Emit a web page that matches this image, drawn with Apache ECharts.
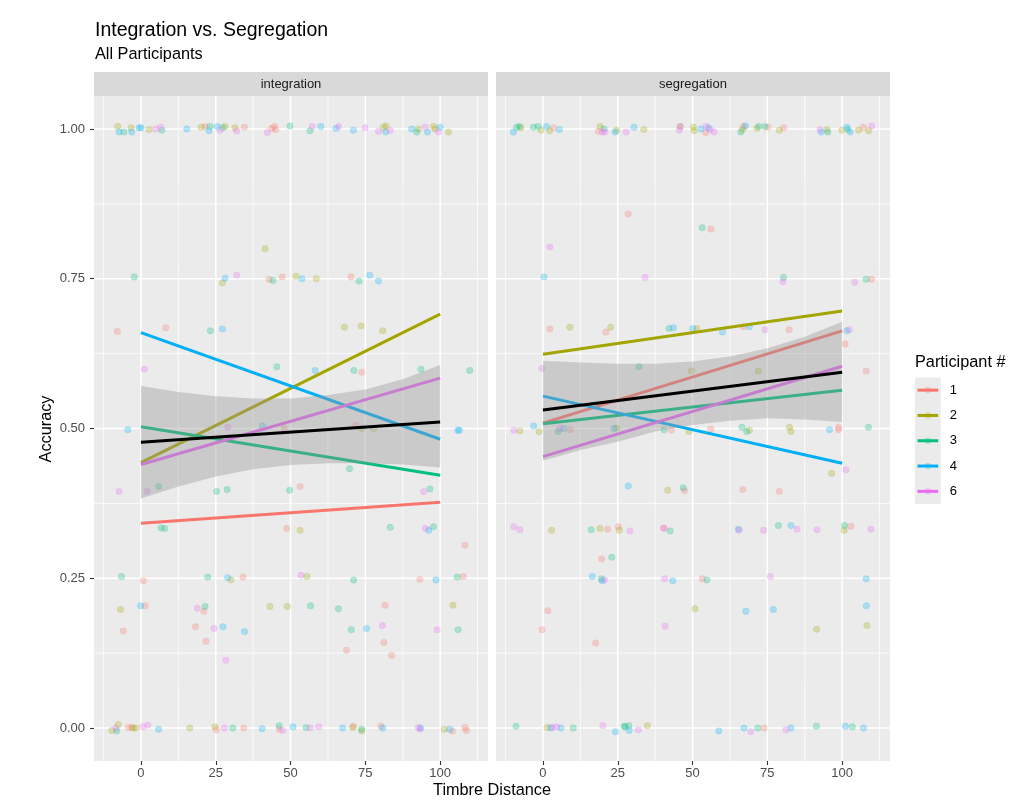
<!DOCTYPE html>
<html>
<head>
<meta charset="utf-8">
<script src="https://cdn.jsdelivr.net/npm/echarts@6/dist/echarts.min.js"></script>
<style>
  html, body { margin: 0; padding: 0; background: #ffffff; }
  #chart { width: 1020px; height: 800px; }
</style>
</head>
<body>
<div id="chart"></div>
<script>
// ---- data ----
const facets = ['integration', 'segregation'];
const participants = [1, 2, 3, 4, 6];
const participantColors = ['#F8766D', '#A3A500', '#00BF7D', '#00B0F6', '#E76BF3'];
const xTicks = [0, 25, 50, 75, 100];
const yTicks = [0, 0.25, 0.5, 0.75, 1];
const xMinorBreaks = [-12.5, 12.5, 37.5, 62.5, 87.5, 112.5];
const yMinorBreaks = [0.125, 0.375, 0.625, 0.875];

// jittered observations: [timbre distance, accuracy, participant]
const integrationPoints = [
  [-7.8,1.004,2],[-7.3,0.995,4],[-5.7,0.995,3],[-3.3,1.002,2],[-3.1,0.995,4],[-0.6,1.002,4],[0.0,1.002,4],[2.7,0.999,2],
  [4.9,1.0,6],[6.6,1.003,6],[7.0,0.998,3],[15.3,1.0,4],[20.1,1.003,2],[21.4,1.004,1],[22.7,0.997,4],[23.1,1.004,3],
  [25.5,1.004,4],[26.4,0.998,6],[27.3,1.002,3],[28.1,1.004,2],[31.4,1.002,2],[32.0,0.997,6],[34.6,1.003,1],[42.2,0.994,6],
  [43.7,1.001,1],[44.6,1.004,1],[45.0,0.999,1],[49.8,1.005,3],[56.5,0.997,3],[57.3,1.004,6],[60.1,1.004,4],[65.2,1.001,4],
  [66.1,1.004,6],[71.0,0.998,4],[74.9,1.002,6],[79.4,0.996,6],[81.0,1.003,2],[81.8,0.995,4],[81.9,1.005,2],[83.3,0.998,6],
  [90.5,1.0,4],[92.2,0.995,3],[92.7,1.0,2],[95.0,1.003,6],[95.8,0.995,4],[97.8,1.004,2],[98.3,1.0,2],[99.4,0.995,6],
  [100,1.003,4],[102.8,0.995,2],
  [41.5,0.80,2],
  [-2.2,0.753,3],[27.2,0.743,2],[28.1,0.751,4],[32.0,0.756,6],[42.8,0.749,1],[44.1,0.747,3],[47.2,0.753,1],[51.8,0.754,2],
  [53.8,0.750,4],[58.6,0.750,2],[70.2,0.753,1],[72.9,0.746,3],[76.5,0.756,4],[79.4,0.746,4],
  [-7.9,0.662,1],[8.3,0.668,1],[23.2,0.663,3],[27.2,0.666,4],[68.0,0.669,2],[73.6,0.671,2],[80.8,0.663,2],
  [1.1,0.599,6],[45.4,0.603,3],[58.2,0.597,4],[71.2,0.597,3],[73.8,0.594,1],[93.6,0.599,3],[109.9,0.597,3],
  [-4.4,0.498,4],[29.0,0.502,6],[40.6,0.504,4],[47.9,0.5,1],[71.8,0.505,1],[73.8,0.5,2],[77.8,0.5,2],[105.9,0.497,4],[106.4,0.497,4],
  [69.7,0.433,3],
  [-7.3,0.395,6],[2.0,0.395,6],[5.9,0.403,3],[25.3,0.395,3],[28.8,0.398,3],[49.7,0.397,3],[53.2,0.403,1],[94.5,0.395,6],[96.6,0.399,3],
  [6.7,0.334,3],[7.9,0.333,3],[48.7,0.333,1],[53.2,0.330,2],[83.3,0.335,3],[95.1,0.333,6],[96.2,0.330,4],[97.8,0.336,3],
  [108.3,0.305,1],
  [-6.5,0.253,3],[0.8,0.246,1],[22.3,0.252,3],[29.0,0.251,4],[30.1,0.247,2],[34.1,0.252,1],[53.5,0.255,6],[55.5,0.253,2],
  [71.1,0.247,3],[93.2,0.248,1],[98.6,0.247,4],[105.7,0.252,3],[107.7,0.253,1],
  [-6.8,0.198,2],[-0.1,0.204,4],[1.4,0.204,1],[18.8,0.200,6],[21.0,0.195,1],[21.4,0.203,3],[43.1,0.203,2],[48.9,0.203,2],
  [56.7,0.204,3],[66.0,0.199,3],[81.6,0.205,1],[104.3,0.205,2],
  [-5.9,0.162,1],[18.2,0.169,1],[24.4,0.166,6],[27.4,0.169,4],[34.6,0.161,4],[70.3,0.164,3],[75.4,0.166,4],[80.7,0.171,6],
  [99.0,0.164,6],[106.0,0.164,3],
  [21.7,0.145,1],[81.2,0.143,1],[68.7,0.130,1],[83.8,0.121,1],[28.4,0.113,6],
  [-9.8,-0.004,2],[-8.1,-0.005,3],[-8.4,0.0,6],[-7.6,0.006,2],[-4.2,0.001,1],[-3.1,0.001,1],[-2.6,0.0,2],[-1.8,0.0,2],
  [0.6,0.002,6],[2.3,0.005,6],[5.9,-0.002,4],[16.3,0.0,2],[24.7,0.002,2],[25.2,-0.003,1],[27.9,0.0,6],[30.7,0.0,3],
  [34.3,0.0,1],[40.5,-0.001,4],[46.2,0.004,3],[46.2,-0.002,1],[47.4,-0.004,6],[50.8,0.002,4],[55.2,0.001,3],[56.6,0.0,6],
  [59.4,0.002,6],[67.4,0.0,4],[70.7,0.001,2],[71.1,0.003,1],[73.7,-0.002,3],[73.8,-0.005,2],[80.2,0.003,1],[80.8,0.0,4],
  [92.7,0.001,6],[93.3,-0.002,6],[93.5,0.0,4],[101.4,-0.002,2],[103.2,-0.002,4],[104.1,-0.005,1],[108.3,0.001,1],[108.8,-0.004,1]
];

const segregationPoints = [
  [-9.9,0.995,4],[-8.8,1.003,3],[-7.9,1.004,3],[-7.4,1.002,2],[-3.2,1.003,3],[-1.6,1.004,3],[-0.7,0.998,2],[1.2,1.004,4],
  [2.2,0.997,2],[3.5,1.002,1],[5.5,0.999,4],[18.5,0.996,1],[19.1,1.004,2],[19.8,0.995,6],[20.4,1.0,3],[20.7,0.995,6],
  [24.1,0.995,4],[24.6,0.998,2],[27.8,0.995,6],[30.4,1.003,4],[33.7,0.999,2],[45.6,0.998,6],[45.8,1.004,2],[46.0,1.004,6],
  [50.3,1.003,2],[50.5,0.997,2],[52.8,1.0,4],[54.4,0.994,1],[54.5,1.004,6],[55.3,1.002,4],[55.9,0.999,6],[57.2,0.995,6],
  [66.1,0.995,3],[66.7,0.999,2],[67.0,1.004,1],[67.7,1.005,4],[71.5,1.001,2],[72.1,1.004,3],[74.2,1.004,3],[75.2,1.003,1],
  [79.0,0.998,2],[80.5,1.002,1],[92.6,0.999,6],[93.0,0.995,4],[94.9,0.999,2],[95.2,0.995,3],[99.9,0.998,2],[101.6,1.003,4],
  [101.9,0.999,3],[102.7,0.995,4],[105.5,0.998,2],[107.1,1.003,1],[108.9,0.997,2],[109.9,1.005,6],
  [28.5,0.858,1],[53.2,0.835,3],[56.1,0.833,1],[2.3,0.803,6],
  [0.3,0.753,4],[34.1,0.752,6],[80.4,0.752,3],[80.2,0.745,6],[104.2,0.744,6],[108.0,0.749,3],[109.8,0.749,1],
  [2.3,0.666,1],[9.0,0.669,2],[21.0,0.661,1],[22.6,0.669,2],[42.1,0.667,3],[43.6,0.668,4],[50.1,0.667,4],[51.4,0.667,2],
  [60.0,0.661,4],[67.0,0.670,1],[69.0,0.670,4],[74.2,0.665,6],[82.3,0.665,1],[101.6,0.663,4],[102.4,0.665,6],[101.0,0.641,1],
  [-0.3,0.600,6],[32.1,0.603,3],[49.6,0.596,2],[72.0,0.596,2],[108.0,0.596,1],
  [-9.7,0.497,6],[-7.7,0.496,2],[-3.1,0.504,4],[-1.3,0.495,2],[5.1,0.495,3],[5.7,0.5,6],[7.0,0.5,4],[9.1,0.498,1],
  [23.7,0.5,4],[24.6,0.501,2],[40.5,0.498,3],[42.9,0.497,1],[48.8,0.495,2],[56.1,0.499,1],[66.5,0.502,3],[68.1,0.495,3],
  [69.0,0.497,2],[82.4,0.502,2],[82.9,0.495,2],[95.8,0.498,4],[98.8,0.498,1],[98.8,0.502,1],[108.8,0.502,3],
  [96.5,0.425,2],[101.3,0.431,6],
  [28.5,0.404,4],[41.7,0.397,2],[46.9,0.401,3],[47.3,0.396,1],[66.8,0.398,1],[79.0,0.395,1],
  [-9.7,0.336,6],[-7.7,0.331,6],[2.9,0.330,2],[16.1,0.331,3],[19.1,0.333,2],[21.6,0.332,1],[25.2,0.336,1],[25.5,0.330,2],
  [29.1,0.329,6],[40.2,0.334,1],[40.6,0.333,6],[42.5,0.329,3],[65.3,0.332,4],[65.6,0.330,6],[73.7,0.330,6],[78.7,0.338,3],
  [82.9,0.338,4],[84.9,0.332,6],[91.6,0.331,6],[100.8,0.338,3],[100.7,0.330,2],[102.9,0.337,1],[109.6,0.332,6],
  [19.6,0.282,1],[23.0,0.285,3],
  [16.5,0.253,4],[19.5,0.249,3],[19.8,0.246,4],[20.6,0.247,6],[40.7,0.249,6],[43.4,0.246,4],[53.3,0.249,1],[54.8,0.247,3],
  [76.0,0.253,6],[108.0,0.249,4],
  [1.6,0.196,1],[50.8,0.199,2],[67.8,0.195,4],[77.0,0.198,4],[108.1,0.204,4],
  [-0.3,0.164,1],[40.8,0.170,6],[91.5,0.165,2],[108.3,0.171,2],[17.6,0.142,1],
  [-9.0,0.003,3],[1.4,0.001,2],[2.6,0.0,4],[3.1,0.001,6],[4.6,0.002,6],[6.0,0.0,4],[10.1,0.0,3],[20.0,0.004,6],
  [24.2,-0.006,4],[27.2,0.003,3],[27.4,0.002,3],[28.7,0.004,3],[28.8,-0.004,4],[31.9,-0.003,6],[34.9,0.004,2],[58.8,-0.005,4],
  [67.2,0.0,4],[69.5,-0.006,6],[71.8,0.0,3],[73.9,0.0,1],[81.2,-0.003,6],[82.9,0.0,4],[91.4,0.003,3],[101.1,0.003,4],
  [103.4,0.002,3],[107.1,0.0,4]
];

// linear fits per participant: accuracy at timbre distance 0 and 100
const fitX = [0, 100];
const integrationFits = [[0.342, 0.377], [0.443, 0.691], [0.503, 0.422], [0.660, 0.482], [0.440, 0.584]];
const segregationFits = [[0.509, 0.663], [0.624, 0.696], [0.508, 0.564], [0.554, 0.442], [0.453, 0.604]];
// pooled fit with its confidence band
const integrationOverall = [0.477, 0.511];
const segregationOverall = [0.531, 0.594];
const bandX = [0, 12.5, 25, 37.5, 50, 62.5, 75, 87.5, 100];
const integrationBandUpper = [0.571, 0.561, 0.554, 0.550, 0.550, 0.556, 0.565, 0.582, 0.606];
const integrationBandLower = [0.383, 0.403, 0.420, 0.432, 0.439, 0.442, 0.442, 0.440, 0.435];
const segregationBandUpper = [0.613, 0.610, 0.608, 0.608, 0.612, 0.620, 0.634, 0.653, 0.678];
const segregationBandLower = [0.446, 0.464, 0.478, 0.495, 0.506, 0.513, 0.517, 0.515, 0.511];

// ---- layout & style ----
const FONT = '"Liberation Sans", Arial, Helvetica, sans-serif';
const X_RANGE = [-15.7, 116];
const Y_RANGE = [-0.055, 1.055];
const PANEL_LEFTS = [94, 496];
const PANEL_TOP = 96, PANEL_W = 394, PANEL_H = 665, STRIP_H = 24;
const POINT_ALPHA = 0.27;

const panelPoints = [integrationPoints, segregationPoints];
const panelFits = [integrationFits, segregationFits];
const panelOverall = [integrationOverall, segregationOverall];
const panelBand = [
  [integrationBandUpper, integrationBandLower],
  [segregationBandUpper, segregationBandLower]
];

const chart = echarts.init(document.getElementById('chart'), null, { renderer: 'canvas' });

const grids = PANEL_LEFTS.map(left => ({
  left: left, top: PANEL_TOP, width: PANEL_W, height: PANEL_H,
  show: true, backgroundColor: '#EBEBEB', borderWidth: 0, containLabel: false
}));

const xAxes = PANEL_LEFTS.map((_, i) => ({
  type: 'value', gridIndex: i, min: X_RANGE[0], max: X_RANGE[1],
  splitLine: { show: false },
  axisLine: { show: false, onZero: false },
  axisTick: { show: true, customValues: xTicks, length: 4, lineStyle: { color: '#333333', width: 1.1 } },
  axisLabel: { customValues: xTicks, color: '#4D4D4D', fontSize: 13, fontFamily: FONT, margin: 6 }
}));

const yAxes = PANEL_LEFTS.map((_, i) => ({
  type: 'value', gridIndex: i, min: Y_RANGE[0], max: Y_RANGE[1],
  splitLine: { show: false },
  axisLine: { show: false, onZero: false },
  axisTick: { show: i === 0, customValues: yTicks, length: 4, lineStyle: { color: '#333333', width: 1.1 } },
  axisLabel: {
    show: i === 0, customValues: yTicks, color: '#4D4D4D', fontSize: 13, fontFamily: FONT, margin: 9,
    formatter: v => Number(v).toFixed(2)
  }
}));

const series = [];

// panel grid lines, drawn through the axis scales
facets.forEach((_, f) => {
  const lines = [];
  xTicks.forEach(v => lines.push([v, 0, 1]));
  xMinorBreaks.forEach(v => lines.push([v, 0, 0]));
  yTicks.forEach(v => lines.push([v, 1, 1]));
  yMinorBreaks.forEach(v => lines.push([v, 1, 0]));
  series.push({
    type: 'custom', xAxisIndex: f, yAxisIndex: f, silent: true, z: 1, animation: false,
    data: lines,
    renderItem: (params, api) => {
      const v = api.value(0), horiz = api.value(1), major = api.value(2);
      const a = horiz ? api.coord([X_RANGE[0], v]) : api.coord([v, Y_RANGE[0]]);
      const b = horiz ? api.coord([X_RANGE[1], v]) : api.coord([v, Y_RANGE[1]]);
      return {
        type: 'line',
        shape: { x1: a[0], y1: a[1], x2: b[0], y2: b[1] },
        style: { stroke: '#FFFFFF', lineWidth: major ? 1.5 : 0.75 }
      };
    }
  });
});

// jittered points
facets.forEach((_, f) => {
  participants.forEach((p, k) => {
    series.push({
      type: 'scatter', xAxisIndex: f, yAxisIndex: f, silent: true, z: 2, animation: false,
      symbol: 'circle', symbolSize: 6.5,
      itemStyle: { color: participantColors[k], borderColor: participantColors[k], borderWidth: 0.5, opacity: POINT_ALPHA },
      data: panelPoints[f].filter(d => d[2] === p).map(d => [d[0], d[1]])
    });
  });
});

// per-participant fit lines
facets.forEach((_, f) => {
  participants.forEach((p, k) => {
    series.push({
      type: 'line', xAxisIndex: f, yAxisIndex: f, silent: true, z: 3, animation: false,
      symbol: 'none',
      lineStyle: { color: participantColors[k], width: 3 },
      data: fitX.map((x, j) => [x, panelFits[f][k][j]])
    });
  });
});

// confidence band of the pooled fit
facets.forEach((_, f) => {
  const [upper, lower] = panelBand[f];
  series.push({
    type: 'custom', xAxisIndex: f, yAxisIndex: f, silent: true, z: 4, animation: false,
    data: bandX.map((x, j) => [x, lower[j], upper[j]]),
    renderItem: (params, api) => {
      if (params.dataIndex !== 0) return null;
      const pts = [];
      bandX.forEach((x, j) => pts.push(api.coord([x, upper[j]])));
      for (let j = bandX.length - 1; j >= 0; j--) pts.push(api.coord([bandX[j], lower[j]]));
      return {
        type: 'polygon',
        shape: { points: pts },
        style: { fill: 'rgba(153,153,153,0.4)', stroke: null }
      };
    }
  });
});

// pooled fit line
facets.forEach((_, f) => {
  series.push({
    type: 'line', xAxisIndex: f, yAxisIndex: f, silent: true, z: 5, animation: false,
    symbol: 'none',
    lineStyle: { color: '#000000', width: 3 },
    data: fitX.map((x, j) => [x, panelOverall[f][j]])
  });
});

// titles, facet strips, axis titles and legend
const graphics = [
  { type: 'text', left: 95, top: 21, style: { text: 'Integration vs. Segregation', font: '19.5px ' + FONT, fill: '#000000' } },
  { type: 'text', left: 95, top: 47, style: { text: 'All Participants', font: '16.3px ' + FONT, fill: '#000000' } },
  { type: 'text', x: 492, y: 791, style: { text: 'Timbre Distance', font: '16.3px ' + FONT, fill: '#000000', textAlign: 'center', textVerticalAlign: 'middle' } },
  { type: 'text', x: 47, y: 429, rotation: Math.PI / 2, style: { text: 'Accuracy', font: '16.3px ' + FONT, fill: '#000000', textAlign: 'center', textVerticalAlign: 'middle' } }
];
facets.forEach((name, f) => {
  graphics.push({ type: 'rect', shape: { x: PANEL_LEFTS[f], y: PANEL_TOP - STRIP_H, width: PANEL_W, height: STRIP_H }, style: { fill: '#D9D9D9' }, silent: true });
  graphics.push({ type: 'text', x: PANEL_LEFTS[f] + PANEL_W / 2, y: PANEL_TOP - STRIP_H / 2, style: { text: name, font: '13px ' + FONT, fill: '#1A1A1A', textAlign: 'center', textVerticalAlign: 'middle' } });
});
const LEG_X = 915, LEG_Y = 377.5, KEY_W = 25.7, KEY_H = 25.3;
graphics.push({ type: 'text', x: LEG_X, y: 363, style: { text: 'Participant #', font: '16.3px ' + FONT, fill: '#000000', textVerticalAlign: 'middle' } });
graphics.push({ type: 'rect', shape: { x: LEG_X, y: LEG_Y, width: KEY_W, height: KEY_H * participants.length }, style: { fill: '#EBEBEB' }, silent: true });
participants.forEach((p, k) => {
  const cy = LEG_Y + KEY_H * (k + 0.5);
  graphics.push({ type: 'circle', shape: { cx: LEG_X + KEY_W / 2, cy: cy, r: 3.3 }, style: { fill: participantColors[k], opacity: POINT_ALPHA }, silent: true });
  graphics.push({ type: 'line', shape: { x1: LEG_X + 2.5, y1: cy, x2: LEG_X + KEY_W - 2.5, y2: cy }, style: { stroke: participantColors[k], lineWidth: 3 }, silent: true });
  graphics.push({ type: 'text', x: LEG_X + KEY_W + 9, y: cy, style: { text: String(p), font: '13px ' + FONT, fill: '#000000', textVerticalAlign: 'middle' } });
});

chart.setOption({
  backgroundColor: '#FFFFFF',
  animation: false,
  textStyle: { fontFamily: FONT },
  grid: grids,
  xAxis: xAxes,
  yAxis: yAxes,
  series: series,
  graphic: { elements: graphics }
});
</script>
</body>
</html>
